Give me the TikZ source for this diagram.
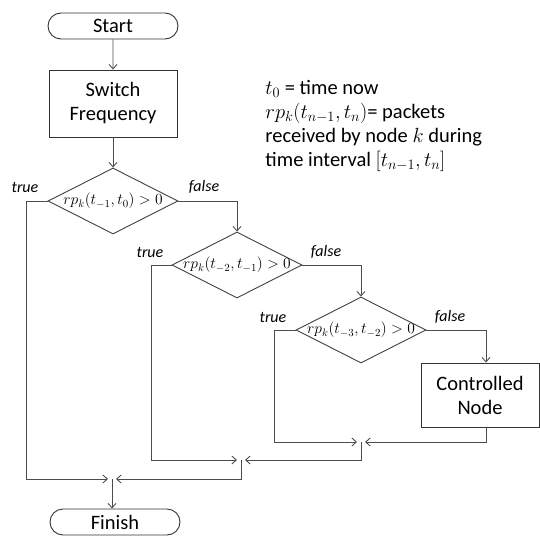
\documentclass[tikz,border=0pt]{standalone}
\usepackage{fix-cm}
\usepackage{fontspec}
\setmainfont{Carlito}
\usetikzlibrary{shapes.geometric,shapes.misc,arrows.meta}

% condition text that does not widen its diamond
\newcommand{\condtext}[1]{\makebox[0pt]{$#1$}}

\begin{document}
\begin{tikzpicture}[x=1pt,y=-1pt,
  line width=0.9pt,
  txt/.style={font=\fontsize{20.5}{24}\selectfont},
  terminal/.style={draw=black!80, rounded rectangle, minimum width=130pt,
    minimum height=26pt, inner sep=0pt, txt},
  procbox/.style={draw=black!80, rectangle, inner sep=0pt, align=center, txt},
  decision/.style={draw=black!75, diamond, aspect=1.97, minimum width=130pt,
    minimum height=66pt, inner sep=0pt, font=\fontsize{15.5}{17}\selectfont},
  branchlbl/.style={font=\fontsize{16}{18}\selectfont\itshape, inner sep=0pt},
  flow/.style={draw=black!70, -{Straight Barb[length=4.5pt,width=8pt]}},
  mergeflow/.style={flow, shorten >=4pt},
]
\useasboundingbox (0,0) rectangle (540,535);

% main column
\node[terminal] (start) at (113,26) {Start};
\node[procbox, minimum width=128pt, minimum height=67pt] (sw) at (113,103.5) {Switch\\Frequency};
\node[decision] (d1) at (113,201) {\condtext{rp_k(t_{-1},t_0) > 0}};
\node[decision] (d2) at (237,265) {\condtext{rp_k(t_{-2},t_{-1}) > 0}};
\node[decision] (d3) at (361,330) {\condtext{rp_k(t_{-3},t_{-2}) > 0}};
\node[procbox, minimum width=118pt, minimum height=64pt] (ctrl) at (480,395) {Controlled\\Node};
\node[terminal] (fin) at (115,522) {Finish};

% branch labels
\node[branchlbl] (t1) at (25,187) {true};
\node[branchlbl] (f1) at (204,187) {false};
\node[branchlbl] (t2) at (150,252) {true};
\node[branchlbl] (f2) at (326,252) {false};
\node[branchlbl] (t3) at (273,317) {true};
\node[branchlbl] (f3) at (450,317) {false};

% legend
\node[txt, align=left, anchor=north west, inner sep=0pt] (legend) at (265,80)
  {$t_0$ = time now\\
   $rp_k(t_{n-1},t_n)$= packets\\
   received by node $k$ during\\
   time interval $[t_{n-1},t_n]$};

% merge points
\coordinate (m3) at (361,442);
\coordinate (m2) at (241,460);
\coordinate (m1) at (112,479);

% connectors
\draw[flow] (start) -- (sw);
\draw[flow] (sw) -- (d1);
\draw[flow] (d1.east) -| (d2.north);
\draw[flow] (d2.east) -| (d3.north);
\draw[flow] (d3.east) -| ([xshift=6pt]ctrl.north);

\draw[mergeflow] (d3.west) -- ++(-21,0) |- (m3);
\draw[mergeflow] ([xshift=6pt]ctrl.south) |- (m3);
\draw[mergeflow] (d2.west) -- ++(-20,0) |- (m2);
\draw[mergeflow] (m3) |- (m2);
\draw[mergeflow] (d1.west) -- ++(-21,0) |- (m1);
\draw[mergeflow] (m2) |- (m1);
\draw[flow] (m1) -- (m1 |- fin.north);
\end{tikzpicture}
\end{document}
